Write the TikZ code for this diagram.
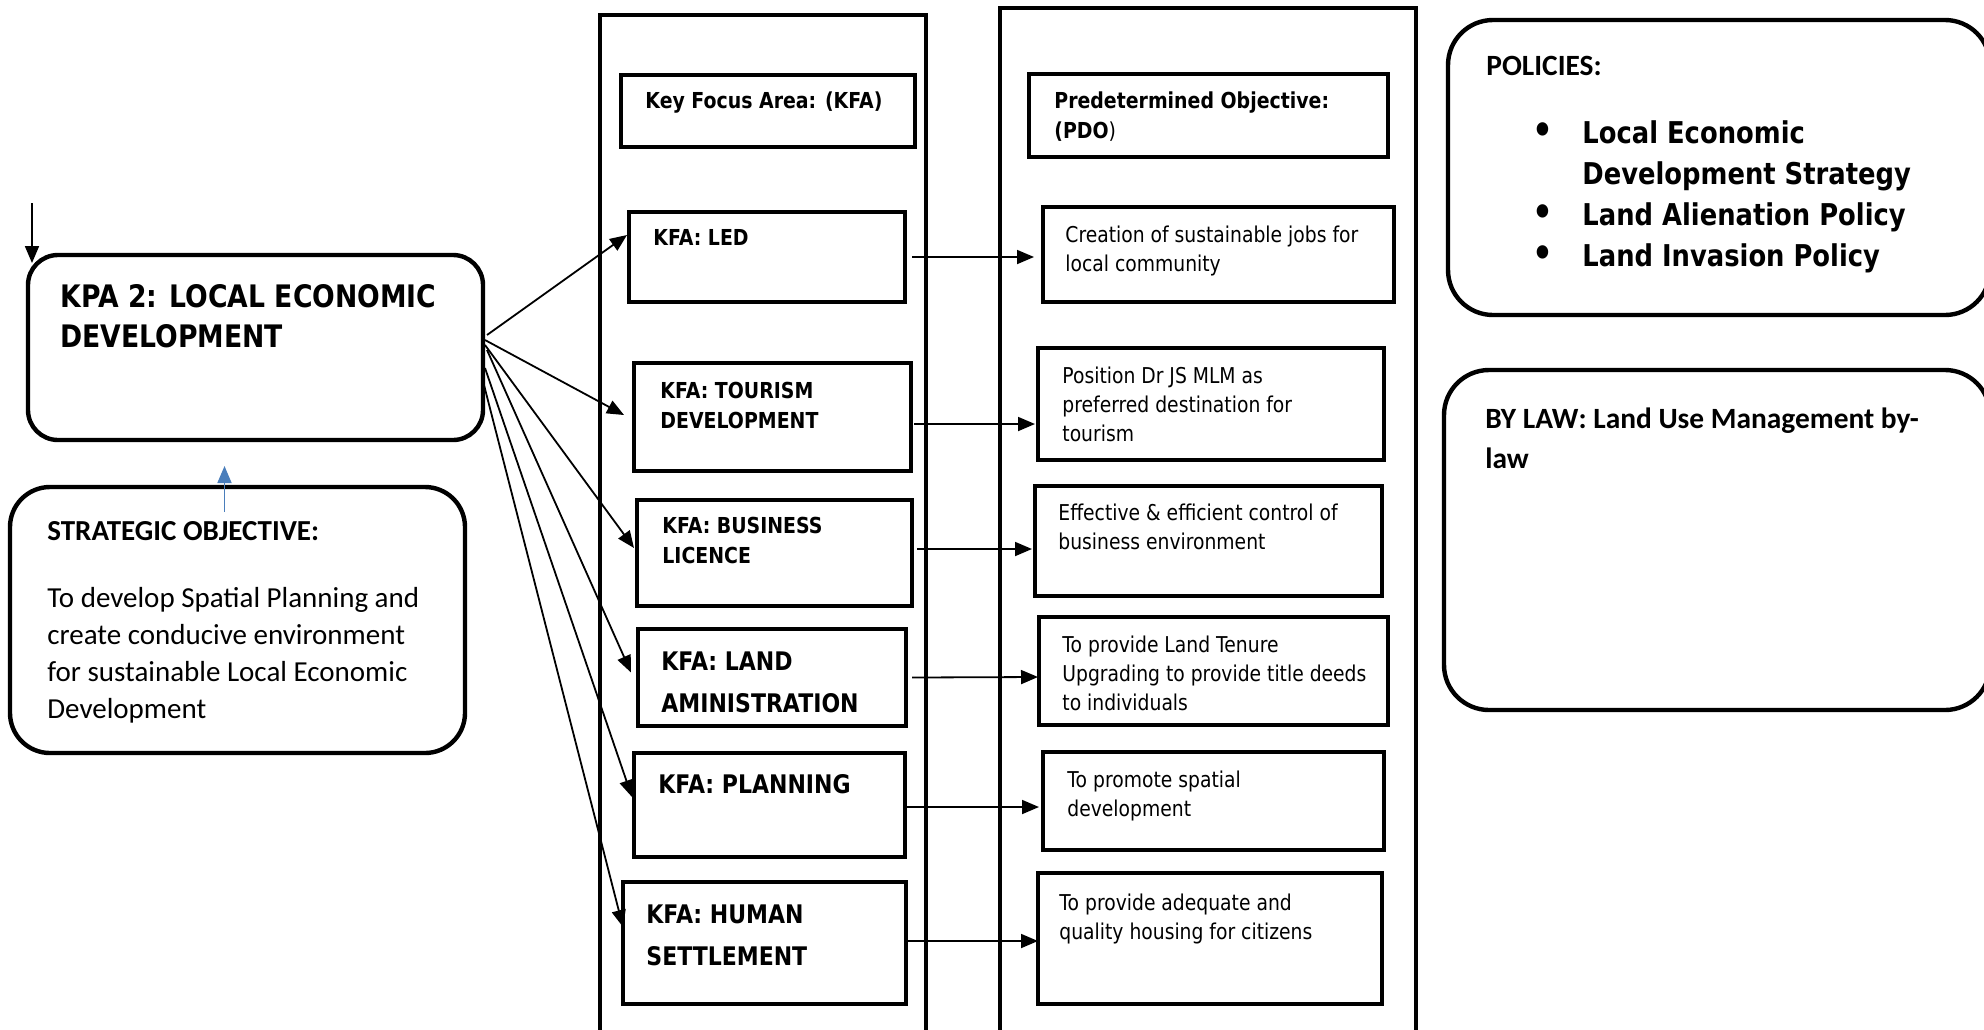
\documentclass[tikz,border=0pt]{standalone}
\usepackage{fontspec}
\setmainfont{DejaVu Sans}[FakeStretch=0.86]
\newfontfamily\calfont{Carlito}
\usetikzlibrary{arrows.meta}
\definecolor{linkblue}{HTML}{4A7EBB}

\begin{document}
\begin{tikzpicture}[x=0.5pt, y=-0.5pt, >={Triangle[length=8.5pt,width=7pt]},
  box/.style={draw, line width=2.4pt, rectangle, anchor=north west, inner sep=0pt, outer sep=0pt},
  roundbox/.style={box, line width=2.2pt, rounded corners=#1},
  txt/.style={anchor=north west, inner sep=0pt, align=left},
  kpatext/.style={txt, font=\bfseries\fontsize{15.5}{20}\selectfont},
  caltext/.style={txt, font=\calfont\bfseries\fontsize{14.7}{20}\selectfont},
  kfatext/.style={txt, font=\bfseries\fontsize{11}{15}\selectfont},
  kfabig/.style={txt, font=\bfseries\fontsize{12.8}{21}\selectfont},
  pdotext/.style={txt, font=\fontsize{10.9}{14.5}\selectfont},
  link/.style={->, line width=0.9pt}]
\useasboundingbox (0,0) rectangle (1984,1029);
\clip (0,0) rectangle (1984,1029);

\node[roundbox=15pt, minimum width=227.5pt, minimum height=92.5pt] (kpa) at (28,255) {};
\node[kpatext] (kpatxt) at (60,279) {\strut KPA 2: LOCAL ECONOMIC\\DEVELOPMENT};

\node[roundbox=20pt, minimum width=227.5pt, minimum height=133pt] (strat) at (10,487) {};
\node[txt, font=\calfont\fontsize{14.5}{18.5}\selectfont] (strattxt) at (47,514)
  {\strut\textbf{STRATEGIC OBJECTIVE:}\\[15pt]To develop Spatial Planning and\\create conducive environment\\for sustainable Local Economic\\Development};

\node[box, minimum width=163pt, minimum height=520pt] (kfacol) at (600,15) {};
\node[box, minimum width=208pt, minimum height=525pt] (pdocol) at (1000,8) {};

\node[box, minimum width=147pt, minimum height=36pt] (kfahead) at (621,75) {};
\node[kfatext] (kfaheadtxt) at (645,87) {\strut Key Focus Area: (KFA)};
\node[box, minimum width=179.5pt, minimum height=41.5pt] (pdohead) at (1029,74) {};
\node[kfatext] (pdoheadtxt) at (1054,87) {\strut Predetermined Objective:\\(PDO\textmd{)}};

\node[box, minimum width=138pt, minimum height=45pt] (led) at (629,212) {};
\node[kfatext] (ledtxt) at (653,224) {\strut KFA: LED};
\node[box, minimum width=138.5pt, minimum height=54pt] (tour) at (634,363) {};
\node[kfatext] (tourtxt) at (660,377) {\strut KFA: TOURISM\\DEVELOPMENT};
\node[box, minimum width=137.5pt, minimum height=53pt] (bus) at (637,500) {};
\node[kfatext] (bustxt) at (662,512) {\strut KFA: BUSINESS\\LICENCE};
\node[box, minimum width=134pt, minimum height=48.5pt] (land) at (638,629) {};
\node[kfabig] (landtxt) at (661,640.6) {\strut KFA: LAND\\AMINISTRATION};
\node[box, minimum width=135.5pt, minimum height=52pt] (plan) at (634,753) {};
\node[kfabig] (plantxt) at (658,763.6) {\strut KFA: PLANNING};
\node[box, minimum width=141.5pt, minimum height=61pt] (human) at (623,882) {};
\node[kfabig] (humantxt) at (646,893.6) {\strut KFA: HUMAN\\SETTLEMENT};

\node[box, minimum width=175.5pt, minimum height=47.5pt] (pdo1) at (1043,207) {};
\node[pdotext] (pdo1txt) at (1065,221.7) {\strut Creation of sustainable jobs for\\local community};
\node[box, minimum width=173pt, minimum height=56pt] (pdo2) at (1038,348) {};
\node[pdotext] (pdo2txt) at (1062,362.7) {\strut Position Dr JS MLM as\\preferred destination for\\tourism};
\node[box, minimum width=173.5pt, minimum height=55pt] (pdo3) at (1035,486) {};
\node[pdotext] (pdo3txt) at (1058,499.7) {\strut Effective \& efficient control of\\business environment};
\node[box, minimum width=174.5pt, minimum height=54pt] (pdo4) at (1039,617) {};
\node[pdotext] (pdo4txt) at (1062,631.7) {\strut To provide Land Tenure\\Upgrading to provide title deeds\\to individuals};
\node[box, minimum width=170.5pt, minimum height=49pt] (pdo5) at (1043,752) {};
\node[pdotext] (pdo5txt) at (1067,766.7) {\strut To promote spatial\\development};
\node[box, minimum width=172pt, minimum height=65.5pt] (pdo6) at (1038,873) {};
\node[pdotext] (pdo6txt) at (1059,889.7) {\strut To provide adequate and\\quality housing for citizens};

\node[roundbox=22.5pt, minimum width=271pt, minimum height=147.5pt] (pol) at (1448,20) {};
\node[caltext] (poltxt) at (1486,47) {\strut POLICIES:};
\node[txt, font=\bfseries\fontsize{15}{20.5}\selectfont] (pollist) at (1532,114.3)
  {\strut\makebox[25pt][l]{\fontsize{19}{20.5}\selectfont•}Local Economic\\\hspace*{25pt}Development Strategy\\\makebox[25pt][l]{\fontsize{19}{20.5}\selectfont•}Land Alienation Policy\\\makebox[25pt][l]{\fontsize{19}{20.5}\selectfont•}Land Invasion Policy};

\node[roundbox=22.5pt, minimum width=273pt, minimum height=170pt] (bylaw) at (1444,370) {};
\node[caltext] (bylawtxt) at (1485,400) {\strut BY LAW: Land Use Management by-\\law};

\coordinate (kpain) at (32,203);
\draw[link] (kpain) -- ([shift={(4,8)}]kpa.north west);
\draw[link, linkblue] ([shift={(-13,25)}]strat.north) -- ([shift={(-31,26)}]kpa.south);

\draw[link] ([shift={(4,-12.5)}]kpa.east) -- ([shift={(-2,-22)}]led.west);
\draw[link] ([shift={(2,-7.5)}]kpa.east) -- ([shift={(-10,-2)}]tour.west);
\draw[link] ([shift={(2,-2.5)}]kpa.east) -- ([shift={(-3,-5)}]bus.west);
\draw[link] ([shift={(4,2.5)}]kpa.east) -- ([shift={(-7,-5)}]land.west);
\draw[link] ([shift={(2,20.5)}]kpa.east) -- ([shift={(-2,-8)}]plan.west);
\draw[link] ([shift={(1,37.5)}]kpa.east) -- ([shift={(0,-16)}]human.west);

\draw[link] ([shift={(7,0)}]led.east) -- ([shift={(-9,2.5)}]pdo1.west);
\draw[link] ([shift={(3,7)}]tour.east) -- ([shift={(-3,20)}]pdo2.west);
\draw[link] ([shift={(5,-4)}]bus.east) -- ([shift={(-3,8)}]pdo3.west);
\draw[link] ([shift={(6,0)}]land.east) -- ([shift={(-1,6)}]pdo4.west);
\draw[link] ([shift={(0,2)}]plan.east) -- ([shift={(-4,6)}]pdo5.west);
\draw[link] ([shift={(0,-2)}]human.east) -- ([shift={(0,2.5)}]pdo6.west);
\end{tikzpicture}
\end{document}
